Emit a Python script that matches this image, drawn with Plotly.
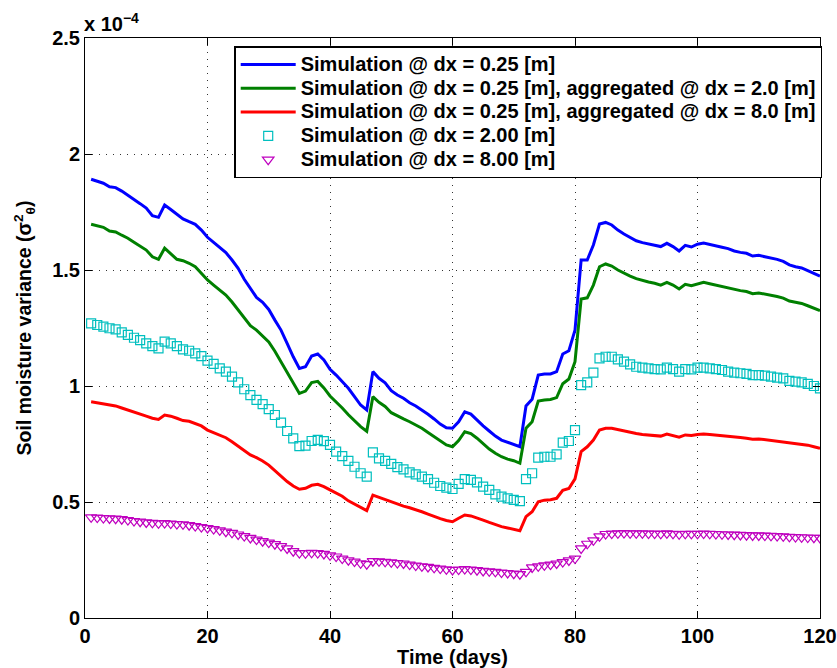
import numpy as np
import plotly.graph_objects as go

# Time axis (days)
days = list(range(1, 121))

# Soil moisture variance values, in units of 1e-4
sim_025 = [
    1.891, 1.882, 1.874, 1.859, 1.855, 1.840, 1.823, 1.805, 1.786, 1.767,
    1.734, 1.727, 1.780, 1.761, 1.740, 1.720, 1.708, 1.697, 1.672, 1.641,
    1.619, 1.598, 1.575, 1.543, 1.507, 1.460, 1.421, 1.382, 1.361, 1.330,
    1.284, 1.241, 1.184, 1.126, 1.076, 1.083, 1.129, 1.138, 1.112, 1.072,
    1.047, 1.019, 0.990, 0.954, 0.918, 0.897, 1.062, 1.033, 1.014, 0.980,
    0.961, 0.947, 0.928, 0.914, 0.897, 0.878, 0.858, 0.836, 0.820, 0.818,
    0.846, 0.889, 0.879, 0.853, 0.828, 0.806, 0.784, 0.767, 0.757, 0.750,
    0.738, 0.914, 0.943, 1.047, 1.052, 1.052, 1.062, 1.138, 1.152, 1.241,
    1.543, 1.543, 1.608, 1.698, 1.705, 1.694, 1.672, 1.655, 1.639, 1.626,
    1.618, 1.612, 1.606, 1.601, 1.615, 1.601, 1.582, 1.606, 1.599, 1.611,
    1.616, 1.611, 1.603, 1.598, 1.592, 1.582, 1.576, 1.572, 1.560, 1.563,
    1.557, 1.552, 1.546, 1.537, 1.522, 1.514, 1.509, 1.497, 1.486, 1.474,
]

sim_025_agg2 = [
    1.697, 1.690, 1.684, 1.668, 1.664, 1.650, 1.637, 1.620, 1.603, 1.586,
    1.557, 1.546, 1.594, 1.572, 1.546, 1.540, 1.529, 1.514, 1.486, 1.457,
    1.435, 1.414, 1.392, 1.362, 1.328, 1.292, 1.260, 1.241, 1.215, 1.190,
    1.150, 1.105, 1.060, 1.013, 0.968, 0.978, 1.015, 1.020, 0.992, 0.957,
    0.932, 0.905, 0.876, 0.850, 0.825, 0.805, 0.954, 0.930, 0.912, 0.885,
    0.870, 0.858, 0.846, 0.832, 0.818, 0.800, 0.782, 0.762, 0.746, 0.738,
    0.765, 0.803, 0.795, 0.775, 0.750, 0.728, 0.710, 0.695, 0.685, 0.678,
    0.667, 0.818, 0.846, 0.935, 0.940, 0.942, 0.950, 1.010, 1.030, 1.105,
    1.375, 1.380, 1.435, 1.514, 1.526, 1.517, 1.500, 1.486, 1.474, 1.463,
    1.454, 1.448, 1.443, 1.435, 1.447, 1.435, 1.418, 1.438, 1.432, 1.441,
    1.447, 1.441, 1.435, 1.430, 1.422, 1.415, 1.411, 1.407, 1.398, 1.401,
    1.397, 1.391, 1.386, 1.379, 1.366, 1.361, 1.356, 1.346, 1.335, 1.325,
]

sim_025_agg8 = [
    0.932, 0.928, 0.925, 0.918, 0.914, 0.905, 0.897, 0.888, 0.879, 0.870,
    0.861, 0.856, 0.875, 0.870, 0.861, 0.851, 0.848, 0.839, 0.828, 0.810,
    0.799, 0.789, 0.777, 0.760, 0.741, 0.721, 0.703, 0.691, 0.677, 0.659,
    0.634, 0.609, 0.588, 0.569, 0.555, 0.559, 0.572, 0.576, 0.566, 0.552,
    0.540, 0.525, 0.505, 0.490, 0.476, 0.463, 0.530, 0.520, 0.512, 0.500,
    0.490, 0.482, 0.475, 0.468, 0.458, 0.448, 0.437, 0.428, 0.420, 0.415,
    0.430, 0.444, 0.440, 0.432, 0.422, 0.412, 0.402, 0.394, 0.388, 0.383,
    0.376, 0.437, 0.458, 0.501, 0.508, 0.510, 0.516, 0.550, 0.558, 0.600,
    0.717, 0.738, 0.767, 0.810, 0.818, 0.818, 0.812, 0.805, 0.800, 0.795,
    0.791, 0.788, 0.786, 0.784, 0.793, 0.786, 0.779, 0.789, 0.787, 0.791,
    0.793, 0.791, 0.789, 0.786, 0.784, 0.781, 0.778, 0.775, 0.771, 0.772,
    0.769, 0.766, 0.762, 0.760, 0.756, 0.752, 0.750, 0.745, 0.738, 0.731,
]

sim_200 = [
    1.270, 1.263, 1.256, 1.249, 1.244, 1.231, 1.220, 1.208, 1.198, 1.184,
    1.172, 1.162, 1.191, 1.184, 1.172, 1.158, 1.152, 1.141, 1.129, 1.109,
    1.095, 1.076, 1.062, 1.040, 1.016, 0.986, 0.961, 0.940, 0.922, 0.900,
    0.875, 0.842, 0.806, 0.774, 0.741, 0.743, 0.763, 0.768, 0.762, 0.746,
    0.717, 0.698, 0.677, 0.652, 0.624, 0.609, 0.714, 0.688, 0.677, 0.664,
    0.650, 0.641, 0.628, 0.619, 0.609, 0.599, 0.583, 0.569, 0.562, 0.556,
    0.578, 0.599, 0.595, 0.585, 0.566, 0.552, 0.533, 0.523, 0.516, 0.509,
    0.504, 0.599, 0.624, 0.691, 0.695, 0.695, 0.705, 0.756, 0.763, 0.810,
    1.004, 1.016, 1.058, 1.119, 1.126, 1.126, 1.115, 1.105, 1.093, 1.083,
    1.079, 1.076, 1.073, 1.072, 1.079, 1.073, 1.062, 1.073, 1.072, 1.079,
    1.079, 1.076, 1.073, 1.069, 1.062, 1.058, 1.055, 1.052, 1.047, 1.047,
    1.045, 1.040, 1.036, 1.033, 1.022, 1.019, 1.016, 1.009, 1.000, 0.990,
]

sim_800 = [
    0.434, 0.433, 0.431, 0.429, 0.428, 0.426, 0.422, 0.418, 0.415, 0.412,
    0.410, 0.408, 0.409, 0.407, 0.405, 0.404, 0.400, 0.396, 0.392, 0.388,
    0.383, 0.378, 0.372, 0.367, 0.360, 0.353, 0.345, 0.338, 0.331, 0.325,
    0.318, 0.310, 0.300, 0.288, 0.280, 0.279, 0.281, 0.280, 0.276, 0.270,
    0.265, 0.256, 0.249, 0.243, 0.236, 0.232, 0.245, 0.244, 0.242, 0.240,
    0.237, 0.235, 0.230, 0.226, 0.223, 0.220, 0.216, 0.213, 0.210, 0.207,
    0.209, 0.211, 0.209, 0.206, 0.203, 0.201, 0.199, 0.196, 0.194, 0.191,
    0.189, 0.199, 0.218, 0.223, 0.227, 0.230, 0.235, 0.241, 0.248, 0.256,
    0.300, 0.320, 0.335, 0.352, 0.362, 0.364, 0.365, 0.366, 0.365, 0.365,
    0.365, 0.364, 0.364, 0.363, 0.365, 0.363, 0.361, 0.363, 0.363, 0.363,
    0.364, 0.363, 0.362, 0.361, 0.360, 0.359, 0.358, 0.357, 0.356, 0.356,
    0.355, 0.354, 0.353, 0.352, 0.350, 0.349, 0.348, 0.347, 0.346, 0.345,
]

scale = 1e-4
y_tickvals = [0, 0.5, 1.0, 1.5, 2.0, 2.5]
y_ticktext = ["0", "0.5", "1", "1.5", "2", "2.5"]
x_tickvals = [0, 20, 40, 60, 80, 100, 120]

names = [
    "Simulation @ dx = 0.25 [m]",
    "Simulation @ dx = 0.25 [m], aggregated @ dx = 2.0 [m]",
    "Simulation @ dx = 0.25 [m], aggregated @ dx = 8.0 [m]",
    "Simulation @ dx = 2.00 [m]",
    "Simulation @ dx = 8.00 [m]",
]

FONT = "Liberation Sans, Arial, Helvetica, sans-serif"


def leg(name):
    # larger visible text, while the legend row spacing follows the base legend font
    return '<span style="font-size:20px">' + name + "</span>"


fig = go.Figure()
for vals, color, name in [
    (sim_025, "#0000FF", names[0]),
    (sim_025_agg2, "#008000", names[1]),
    (sim_025_agg8, "#FF0000", names[2]),
]:
    fig.add_trace(go.Scatter(
        x=days, y=np.array(vals) * scale, mode="lines", name=leg(name),
        line=dict(color=color, width=3),
    ))

fig.add_trace(go.Scatter(
    x=days, y=np.array(sim_200) * scale, mode="markers", name=leg(names[3]),
    marker=dict(symbol="square-open", size=9, color="#00BFBF", line=dict(width=1.2)),
))
fig.add_trace(go.Scatter(
    x=days, y=np.array(sim_800) * scale, mode="markers", name=leg(names[4]),
    marker=dict(symbol="triangle-down-open", size=10, color="#BF00BF", line=dict(width=1.2)),
))

axis_common = dict(
    showline=True, linecolor="black", linewidth=1, mirror="ticks",
    ticks="inside", ticklen=7, tickcolor="black",
    showgrid=True, gridcolor="#333333", griddash="1px,6px", gridwidth=1,
    zeroline=False, automargin=False,
    tickfont=dict(family=FONT, size=20, color="black", weight="bold"),
)

fig.update_xaxes(
    range=[0, 120], tickvals=x_tickvals,
    title=dict(text="Time (days)", standoff=2,
               font=dict(family=FONT, size=20, color="black", weight="bold")),
    **axis_common,
)
fig.update_yaxes(
    range=[0, 2.5 * scale],
    tickvals=[v * scale for v in y_tickvals], ticktext=y_ticktext,
    title=dict(text="Soil moisture variance (σ<sup>2</sup><sub>θ</sub>)", standoff=15,
               font=dict(family=FONT, size=19.5, color="black", weight="bold")),
    **axis_common,
)

fig.add_annotation(
    text="x 10<sup>−4</sup>", xref="paper", yref="paper", x=0, y=1.0,
    xanchor="left", yanchor="bottom", yshift=1, xshift=-3, showarrow=False,
    font=dict(family=FONT, size=20, color="black", weight="bold"),
)

fig.update_layout(
    width=837, height=668,
    margin=dict(l=85, r=17, t=38, b=50),
    paper_bgcolor="white", plot_bgcolor="white",
    showlegend=True,
    legend=dict(
        x=0.203, y=0.986, xanchor="left", yanchor="top",
        bgcolor="white", bordercolor="black", borderwidth=1.5,
        font=dict(family=FONT, size=16, color="black", weight="bold"),
        tracegroupgap=0, itemwidth=55,
    ),
)

fig.write_html("out.html")
